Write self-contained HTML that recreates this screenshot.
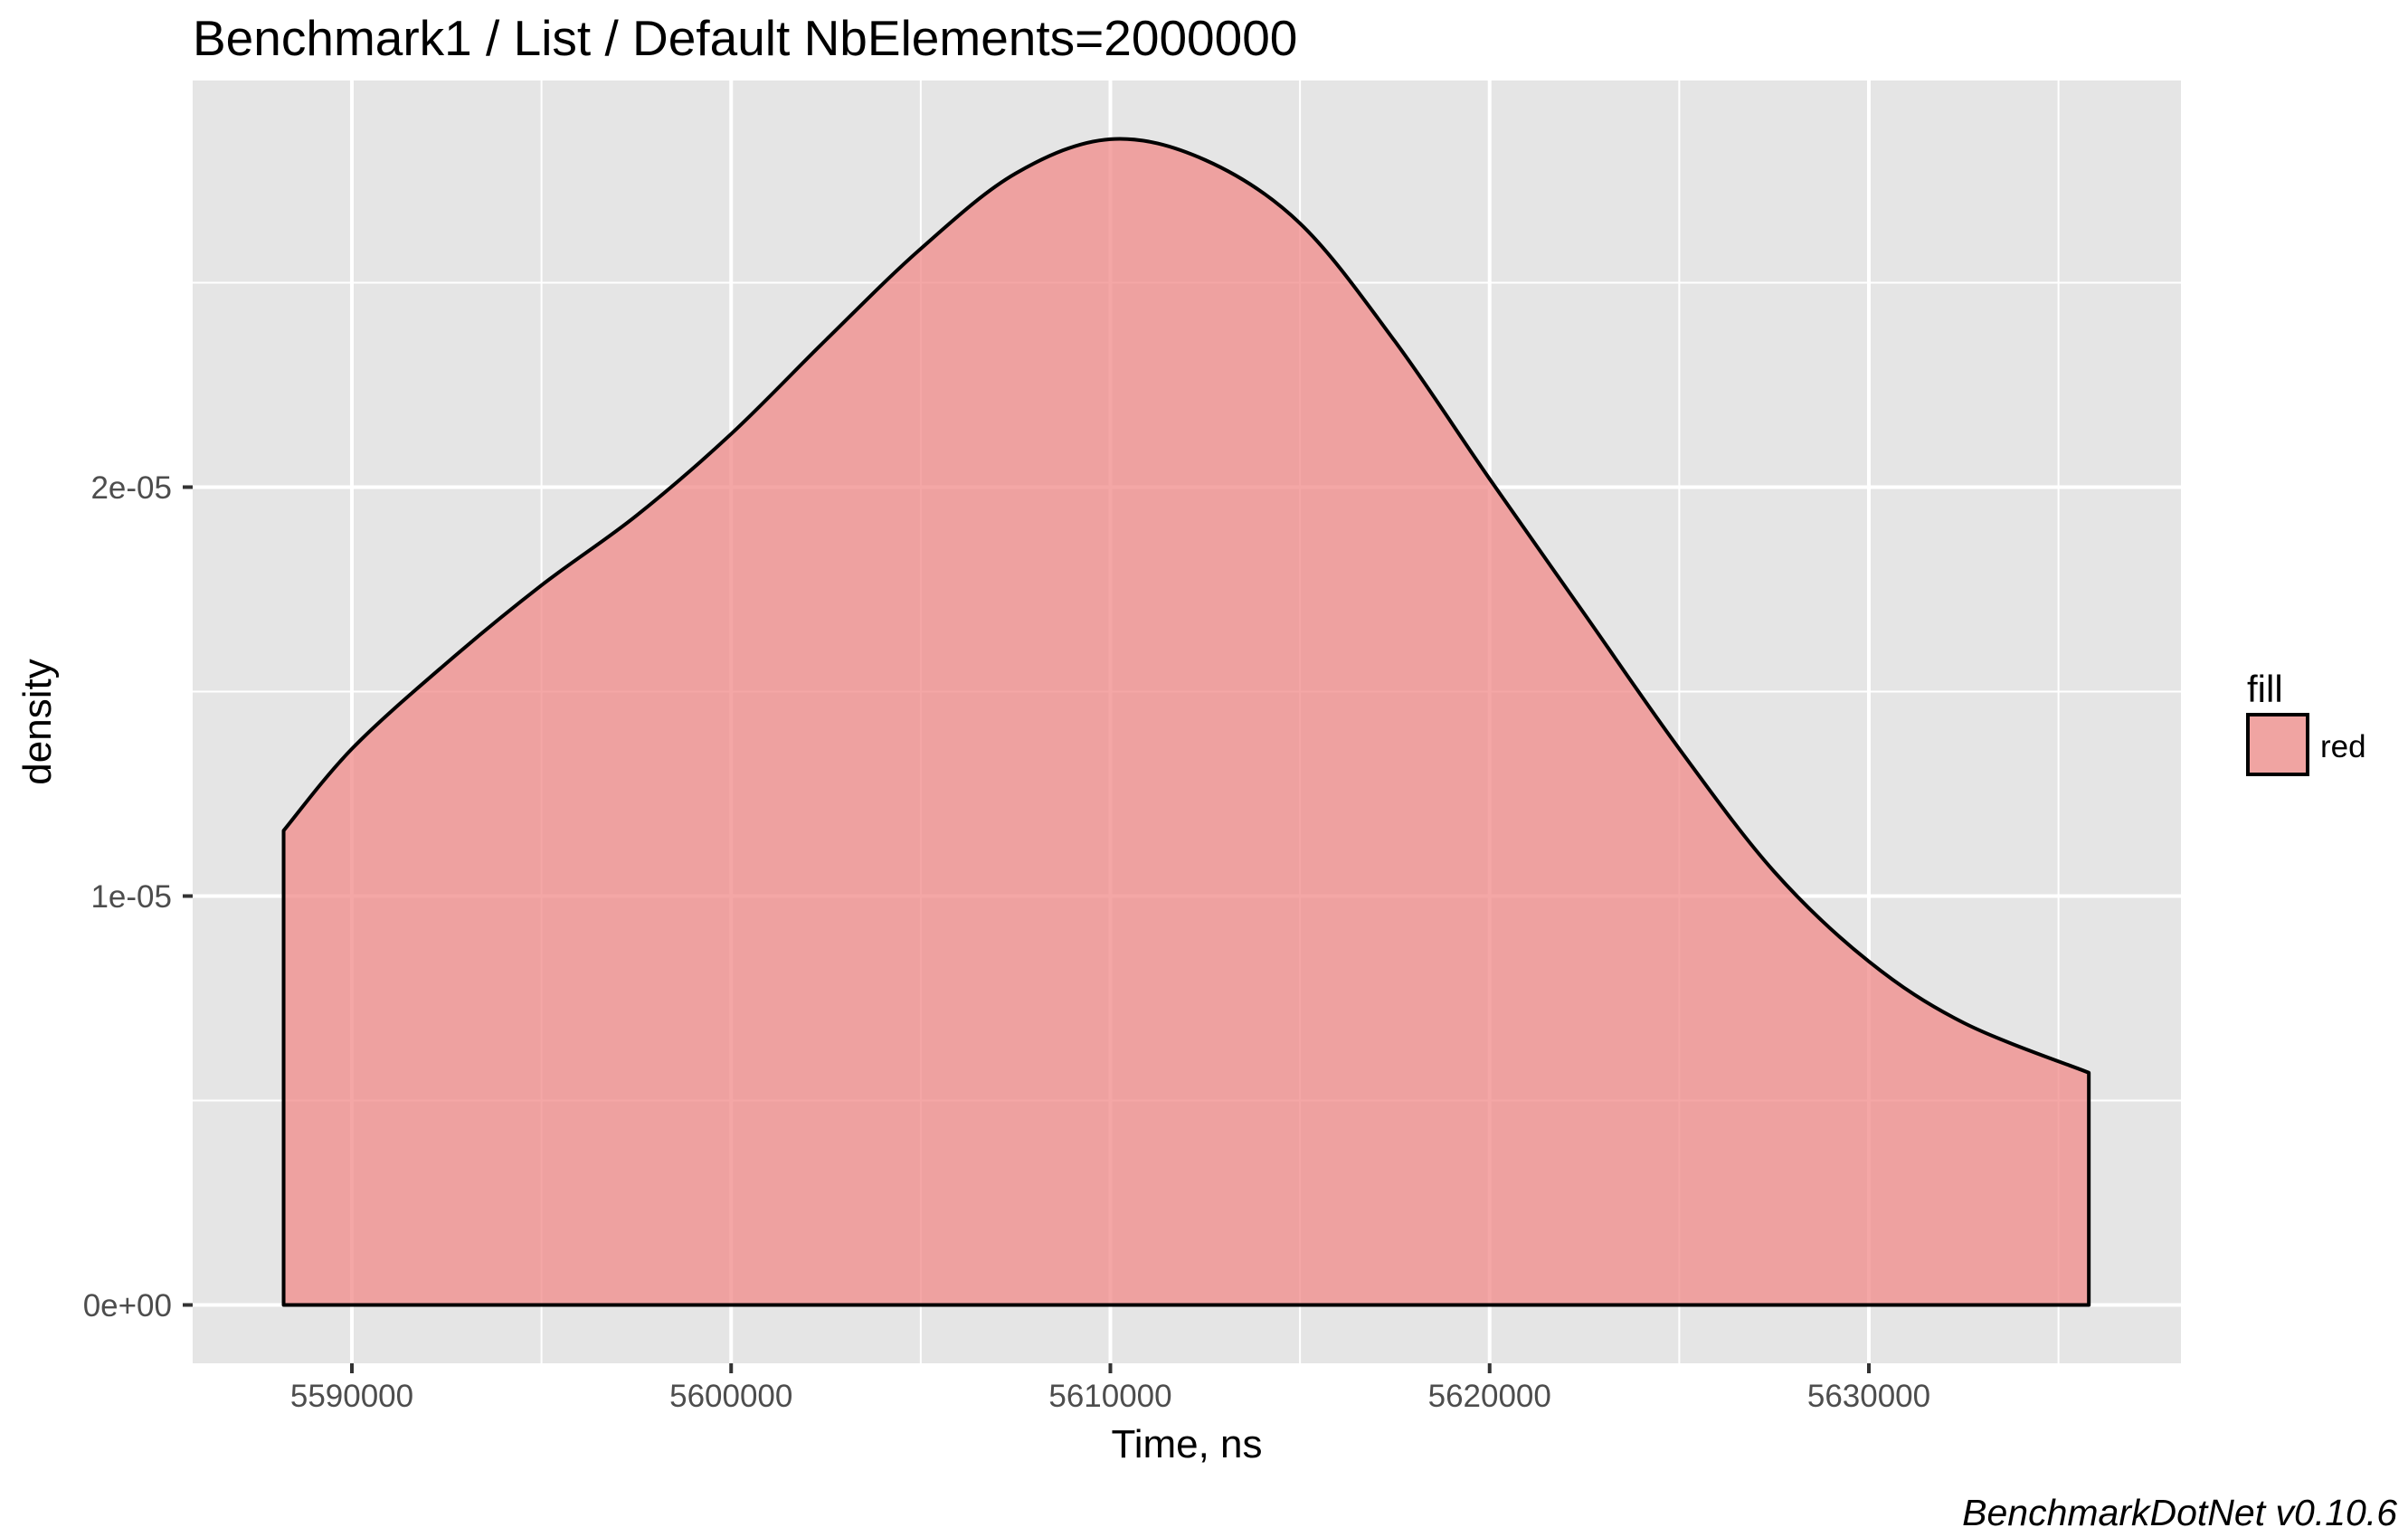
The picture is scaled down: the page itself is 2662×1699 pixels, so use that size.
<!DOCTYPE html>
<html><head><meta charset="utf-8"><style>
html,body{margin:0;padding:0;background:#fff;}
svg{display:block;font-family:"Liberation Sans",Arial,sans-serif;}
</style></head><body>
<svg id="chart" width="2662" height="1699" viewBox="0 0 2662 1699" xmlns="http://www.w3.org/2000/svg">
<rect width="2662" height="1699" fill="#fff"/>
<text x="213" y="61" font-size="55" fill="#000">Benchmark1 / List / Default NbElements=2000000</text>
<rect x="213" y="89" width="2198" height="1418" fill="#E5E5E5"/>
<g id="grid"></g>
<g id="marks"></g>
<g id="axes"></g>
<text x="1312" y="1611" font-size="44" text-anchor="middle" fill="#000">Time, ns</text>
<text transform="translate(56,798) rotate(-90)" font-size="44" text-anchor="middle" fill="#000">density</text>
<g>
<text x="2484" y="776" font-size="42" fill="#000">fill</text>
<rect x="2485" y="790" width="66" height="66" fill="#F0A4A2" stroke="#000" stroke-width="4"/>
<text x="2565" y="837" font-size="35" fill="#000">red</text>
</g>
<text x="2650" y="1686" font-size="41" font-style="italic" text-anchor="end" fill="#000">BenchmarkDotNet v0.10.6</text>
</svg>
<script>
const xValues = [5588200,5590000,5592500,5595000,5597500,5600000,5602500,5605000,5607500,5610000,5612500,5615000,5617500,5620000,5622500,5625000,5627500,5630000,5632500,5635800];
const densityValues = [1.16,1.36,1.57,1.76,1.93,2.13,2.36,2.583,2.767,2.851,2.80,2.645,2.357,2.02,1.69,1.36,1.06,0.84,0.69,0.568];
const xMajorTicks = [5590000,5600000,5610000,5620000,5630000];
const xMinorTicks = [5595000,5605000,5615000,5625000,5635000];
const yMajorTicks = [0,1,2];
const yTickLabels = ["0e+00","1e-05","2e-05"];
const yMinorTicks = [0.5,1.5,2.5];

const PX0=213, PX1=2411, PY0=89, PY1=1507;
const XMIN=5585802, XMAX=5638229, YMIN=-0.1427, YMAX=2.9944;
const sx=v=>PX0+(v-XMIN)/(XMAX-XMIN)*(PX1-PX0);
const sy=v=>PY1-(v-YMIN)/(YMAX-YMIN)*(PY1-PY0);
const NS="http://www.w3.org/2000/svg";
function mk(tag,attrs,parent){const e=document.createElementNS(NS,tag);for(const k in attrs)e.setAttribute(k,attrs[k]);parent.appendChild(e);return e;}
const grid=document.getElementById('grid'), marks=document.getElementById('marks'), axes=document.getElementById('axes');

yMinorTicks.forEach(v=>{const l=mk('line',{x1:PX0,x2:PX1,y1:sy(v),y2:sy(v),stroke:'#fff','stroke-width':2},grid);

});
xMinorTicks.forEach(v=>{const l=mk('line',{x1:sx(v),x2:sx(v),y1:PY0,y2:PY1,stroke:'#fff','stroke-width':2},grid);

});
yMajorTicks.forEach(v=>{const l=mk('line',{x1:PX0,x2:PX1,y1:sy(v),y2:sy(v),stroke:'#fff','stroke-width':4},grid);

});
xMajorTicks.forEach(v=>{const l=mk('line',{x1:sx(v),x2:sx(v),y1:PY0,y2:PY1,stroke:'#fff','stroke-width':4},grid);

});

const pts=xValues.map((x,i)=>[sx(x),sy(densityValues[i])]);
let d=`M${pts[0][0]},${sy(0)} L${pts[0][0]},${pts[0][1]}`;
for(let i=0;i<pts.length-1;i++){
 const p0=pts[Math.max(0,i-1)],p1=pts[i],p2=pts[i+1],p3=pts[Math.min(pts.length-1,i+2)];
 const c1=[p1[0]+(p2[0]-p0[0])/6,p1[1]+(p2[1]-p0[1])/6];
 const c2=[p2[0]-(p3[0]-p1[0])/6,p2[1]-(p3[1]-p1[1])/6];
 d+=` C${c1[0]},${c1[1]} ${c2[0]},${c2[1]} ${p2[0]},${p2[1]}`;
}
d+=` L${pts[pts.length-1][0]},${sy(0)} Z`;
const area=mk('path',{d:d,fill:'rgb(240,137,136)','fill-opacity':0.75,stroke:'#000','stroke-width':4,'stroke-linejoin':'round'},marks);



xMajorTicks.forEach(v=>{
 const t=mk('line',{x1:sx(v),x2:sx(v),y1:PY1,y2:PY1+11,stroke:'#333','stroke-width':4},axes);
 
 
 const tx=mk('text',{x:sx(v),y:1555,'font-size':35,'text-anchor':'middle',fill:'#4D4D4D'},axes);
 
 
 tx.textContent=String(v);
});
yMajorTicks.forEach((v,i)=>{
 const t=mk('line',{x1:PX0-11,x2:PX0,y1:sy(v),y2:sy(v),stroke:'#333','stroke-width':4},axes);
 
 
 const tx=mk('text',{x:190,y:sy(v)+12.5,'font-size':35,'text-anchor':'end',fill:'#4D4D4D'},axes);
 
 
 tx.textContent=yTickLabels[i];
});
</script>
</body></html>
